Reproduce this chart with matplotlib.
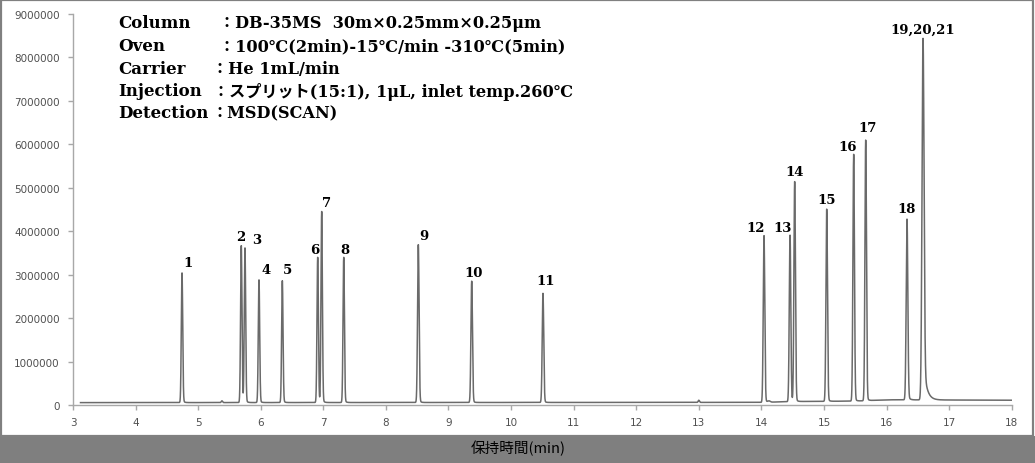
import numpy as np
import matplotlib
matplotlib.use("Agg")
import matplotlib.pyplot as plt
from matplotlib.patches import Rectangle

# ---------------- data ----------------
peak_labels = ["1", "2", "3", "4", "5", "6", "7", "8", "9", "10", "11",
               "12", "13", "14", "15", "16", "17", "18", "19,20,21"]
peak_times = [4.742, 5.689, 5.748, 5.972, 6.345, 6.910, 6.974, 7.326, 8.518,
              9.371, 10.510, 14.042, 14.458, 14.532, 15.044, 15.475, 15.667,
              16.327, 16.583]
peak_heights = [3040000, 3670000, 3610000, 2880000, 2860000, 3400000, 4450000,
                3400000, 3690000, 2850000, 2570000, 3900000, 3910000, 5140000,
                4510000, 5770000, 6100000, 4280000, 8440000]
peak_widths = [0.011, 0.011, 0.011, 0.011, 0.011, 0.011, 0.011, 0.011, 0.012,
               0.012, 0.012, 0.012, 0.012, 0.012, 0.012, 0.012, 0.012, 0.013,
               0.016]
peak_tail_frac = [0.03, 0.03, 0.03, 0.03, 0.03, 0.03, 0.03, 0.03, 0.03, 0.03,
                  0.03, 0.03, 0.03, 0.03, 0.03, 0.03, 0.03, 0.04, 0.12]
peak_tail_tau = [0.02, 0.02, 0.02, 0.02, 0.02, 0.02, 0.02, 0.02, 0.02, 0.02,
                 0.02, 0.02, 0.02, 0.02, 0.02, 0.02, 0.02, 0.025, 0.05]
# minor features (small bumps)
minor_times = [5.38, 13.0, 14.12]
minor_heights = [40000, 50000, 30000]
minor_widths = [0.01, 0.01, 0.02]
# baseline drift
baseline_times = [3.12, 13.0, 14.0, 14.5, 15.5, 16.0, 18.0]
baseline_values = [55000, 60000, 60000, 80000, 90000, 120000, 110000]

xticks = list(range(3, 19))
yticks = [0, 1000000, 2000000, 3000000, 4000000, 5000000, 6000000, 7000000,
          8000000, 9000000]
x_label = "保持時間(min)"

cond_labels = ["Column", "Oven", "Carrier", "Injection", "Detection"]
cond_values = ["：DB-35MS  30m×0.25mm×0.25μm",
               "：100℃(2min)-15℃/min -310℃(5min)",
               "：He 1mL/min",
               "：スプリット(15:1), 1μL, inlet temp.260℃",
               "：MSD(SCAN)"]

# label offsets in pixels (dx, dy up) relative to the peak apex
label_dx = [6, -1, 12, 7, 5, -3, 5, 1, 6, 2, 3, -8, -7, 0, 0, -6, 2, 0, 0]
label_dy = [10, 9, 9, 10, 11, 8, 9, 8, 9, 9, 13, 8, 8, 10, 10, 8, 12, 11, 9]

# ---------------- figure ----------------
W, H = 1035, 464
fig = plt.figure(figsize=(W / 100, H / 100), dpi=100)
fig.patch.set_facecolor("white")

band_h = 27 / H
fig.patches.append(Rectangle((0, 0), 1, band_h, transform=fig.transFigure,
                             facecolor="#7f7f7f", edgecolor="none", zorder=0))
fig.patches.append(Rectangle((0.6 / W, band_h), 1 - 2.6 / W, 1 - band_h - 0.8 / H,
                             transform=fig.transFigure, facecolor="none",
                             edgecolor="#808080", lw=1.6, zorder=0))

ax = fig.add_axes([73 / W, (H - 406) / H, (1011.7 - 73) / W, (406 - 15) / H])
ax.set_facecolor("none")

t = np.linspace(3.12, 18.0, 15000)
base = np.interp(t, baseline_times, baseline_values)
sig = base.copy()
for pt, ph, pw, tf, tau in zip(peak_times, peak_heights, peak_widths,
                               peak_tail_frac, peak_tail_tau):
    amp = ph - np.interp(pt, baseline_times, baseline_values)
    sig += amp * np.exp(-0.5 * ((t - pt) / pw) ** 2)
    d = t - pt
    tail = np.where(d > 0, np.exp(-np.clip(d, 0, None) / tau), 0.0)
    rise = 1 - np.exp(-0.5 * (np.clip(d, 0, None) / pw) ** 2)
    sig += amp * tf * tail * rise
for pt, ph, pw in zip(minor_times, minor_heights, minor_widths):
    sig += ph * np.exp(-0.5 * ((t - pt) / pw) ** 2)

ax.plot(t, sig, color="#6a6a6a", lw=1.1, solid_joinstyle="round")

ax.set_xlim(3, 18)
ax.set_ylim(0, 9000000)
ax.set_xticks(xticks)
ax.set_xticklabels([str(v) for v in xticks])
ax.set_yticks(yticks)
ax.set_yticklabels([str(v) for v in yticks])
for s in ["top", "right"]:
    ax.spines[s].set_visible(False)
for s in ["left", "bottom"]:
    ax.spines[s].set_color("#a8a8a8")
    ax.spines[s].set_linewidth(1.0)
ax.tick_params(axis="both", colors="#a8a8a8", labelcolor="#505050",
               labelsize=7.5, length=3.5, width=1.0)
ax.tick_params(axis="y", pad=6)
ax.tick_params(axis="x", pad=5)

# peak labels
for lab, pt, ph, dx, dy in zip(peak_labels, peak_times, peak_heights, label_dx, label_dy):
    ax.annotate(lab, xy=(pt, ph), xytext=(dx, dy), textcoords="offset pixels",
                ha="center", va="center", fontsize=9.5, fontweight="bold",
                family=["DejaVu Serif", "Noto Sans CJK JP"], color="black")

# conditions text
line_y = [24, 47, 70, 92, 114]
colon_x = [219, 219, 212, 213, 212]
for lab, val, yy, cx in zip(cond_labels, cond_values, line_y, colon_x):
    fig.text(118 / W, 1 - yy / H, lab, ha="left", va="center", fontsize=12,
             fontweight="bold", family=["DejaVu Serif", "Noto Sans CJK JP"])
    fig.text(cx / W, 1 - yy / H, val, ha="left", va="center", fontsize=11.6,
             fontweight="bold", family=["DejaVu Serif", "Noto Sans CJK JP"])

fig.text(518 / W, 1 - 448 / H, x_label, ha="center", va="center", fontsize=10.5,
         family=["Noto Sans CJK JP", "DejaVu Sans"], color="black")

fig.savefig("out.png", dpi=100)
